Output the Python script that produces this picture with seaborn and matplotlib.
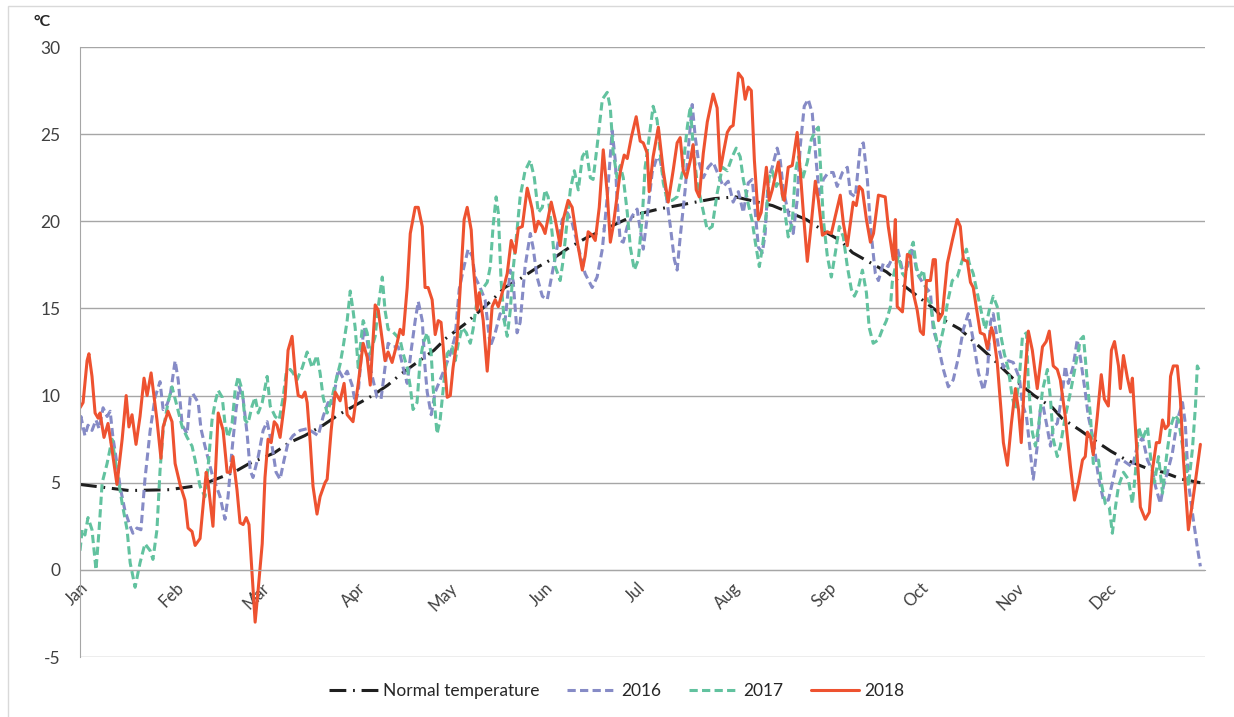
"""
Daily mean temperature 2016-2018 against the normal curve.
"""

import matplotlib
matplotlib.use("Agg")
import matplotlib.pyplot as plt
import pandas as pd
import seaborn as sns
from matplotlib.patches import Rectangle

# --- data -------------------------------------------------------------------
month_labels = ["Jan", "Feb", "Mar", "Apr", "May", "Jun",
                "Jul", "Aug", "Sep", "Oct", "Nov", "Dec"]
month_start = [0, 31, 59, 90, 120, 151, 181, 212, 243, 273, 304, 334]

normal_day = [0, 16, 29, 39, 50, 55, 63, 68, 73, 79, 84, 95, 100, 104, 115, 119,
              125, 134, 138, 143, 149, 154, 159, 165, 170, 176, 181, 188, 200,
              206, 213, 225, 236, 242, 247, 251, 257, 262, 267, 278, 281, 286,
              291, 296, 303, 310, 316, 319, 325, 329, 335, 340, 347, 352, 358, 364]
normal_temp = [4.9, 4.55, 4.6, 4.85, 5.6, 6.1, 6.7, 7.3, 7.7, 8.3, 8.9, 10.0, 10.6,
               11.2, 12.6, 13.3, 14.1, 15.5, 16.2, 16.7, 17.4, 17.9, 18.5, 19.1,
               19.5, 20.0, 20.4, 20.7, 21.1, 21.3, 21.4, 20.9, 20.1, 19.4, 18.9,
               18.2, 17.6, 17.1, 16.4, 14.9, 14.3, 13.8, 13.0, 12.2, 11.0, 10.0,
               9.3, 8.7, 8.0, 7.5, 6.8, 6.3, 5.8, 5.6, 5.2, 5.0]

day_2016 = [0, 0.3, 1.6, 2.6, 3.9, 5.2, 6.2, 7.5, 8.8, 9.8, 10.7, 12.0, 13.0, 14.6,
            16.3, 17.2, 18.5, 19.8, 21.1, 22.8, 24.4, 26.0, 27.0, 28.3, 29.3, 30.9,
            31.9, 33.2, 34.8, 35.8, 36.7, 38.4, 39.3, 40.6, 42.9, 45.5, 47.1, 48.1,
            49.4, 50.7, 51.7, 53.0, 54.3, 55.3, 56.2, 57.9, 59.5, 60.8, 62.4, 63.7,
            65.0, 66.3, 67.6, 69.2, 71.5, 73.8, 75.7, 77.4, 79.0, 80.6, 81.9, 83.9,
            85.5, 86.8, 88.4, 89.4, 90.4, 91.7, 92.3, 93.3, 94.3, 95.2, 96.5, 97.8,
            99.1, 100.1, 101.7, 103.4, 105.0, 106.3, 107.6, 108.9, 109.9, 111.2,
            112.1, 112.8, 114.1, 115.4, 117.0, 118.6, 120.3, 121.9, 123.2, 124.5,
            126.1, 127.4, 128.4, 130.0, 131.6, 133.3, 134.9, 136.5, 138.1, 139.8,
            140.7, 142.0, 143.0, 144.6, 146.3, 147.2, 148.5, 150.2, 151.8, 153.4,
            155.0, 156.7, 158.3, 159.9, 161.9, 164.1, 166.4, 168.0, 169.7, 171.3,
            172.9, 173.9, 174.5, 175.5, 176.5, 177.8, 179.4, 181.0, 183.0, 184.3,
            185.9, 187.5, 188.5, 190.1, 191.8, 193.1, 194.0, 195.0, 196.6, 197.9,
            198.9, 199.9, 200.9, 202.5, 204.1, 205.7, 207.3, 209.0, 210.6, 212.2,
            213.9, 215.5, 217.1, 218.4, 219.4, 220.4, 221.7, 222.6, 223.6, 224.9,
            226.5, 227.5, 228.5, 230.1, 231.7, 233.0, 234.0, 235.3, 236.6, 237.9,
            239.2, 240.2, 241.5, 243.1, 244.7, 246.0, 247.7, 249.3, 250.3, 251.9,
            253.5, 254.5, 255.8, 256.8, 258.4, 259.4, 261.0, 262.6, 265.5, 267.2,
            268.8, 270.4, 272.0, 273.7, 275.3, 276.3, 277.2, 278.9, 280.5, 282.1,
            283.7, 285.4, 287.0, 288.6, 290.2, 291.9, 293.5, 294.8, 295.8, 296.7,
            298.4, 300.0, 301.6, 303.2, 305.2, 306.2, 307.5, 308.8, 309.7, 311.0,
            312.0, 312.9, 314.2, 315.3, 316.2, 317.5, 319.2, 320.1, 321.1, 322.7,
            324.0, 325.0, 326.6, 327.6, 329.2, 330.9, 332.5, 334.1, 335.4, 337.0,
            338.7, 340.3, 341.9, 343.5, 345.2, 346.8, 348.4, 349.4, 351.0, 352.0,
            353.3, 354.9, 356.5, 358.2, 359.1, 360.1, 361.7, 363.0, 364.0]
temp_2016 = [8.0, 8.8, 7.7, 8.3, 8.0, 8.6, 8.1, 9.3, 8.8, 9.1, 7.6, 6.1, 4.8, 3.4,
             2.5, 2.1, 2.4, 2.3, 5.2, 8.0, 9.9, 10.8, 9.2, 9.5, 10.0, 12.0, 10.9,
             8.3, 7.8, 9.9, 10.1, 9.6, 8.1, 7.1, 5.5, 4.2, 2.9, 4.2, 6.9, 9.2, 10.5,
             9.8, 7.8, 5.7, 5.3, 6.5, 8.0, 8.5, 7.1, 5.6, 5.2, 6.3, 7.3, 7.7, 8.0,
             8.1, 7.9, 7.7, 8.8, 9.6, 9.4, 11.5, 11.0, 11.4, 10.6, 9.6, 10.2, 13.0,
             13.9, 13.2, 11.6, 10.9, 9.9, 9.8, 11.6, 13.0, 12.8, 12.8, 11.6, 10.7,
             12.6, 14.3, 15.4, 14.3, 11.6, 10.2, 8.9, 10.2, 10.9, 11.6, 12.4, 13.4,
             16.1, 17.2, 18.4, 18.0, 16.8, 16.2, 15.5, 12.8, 13.6, 14.7, 14.3, 17.2,
             16.6, 13.6, 14.2, 17.4, 19.3, 18.5, 16.8, 15.7, 15.5, 17.0, 18.5, 20.1,
             20.5, 19.9, 18.5, 17.0, 16.2, 16.8, 18.4, 21.4, 25.2, 23.5, 21.2, 18.9,
             18.8, 19.7, 20.3, 20.7, 18.4, 20.3, 22.8, 23.7, 23.5, 22.0, 19.7, 17.8,
             17.2, 19.1, 21.8, 24.7, 26.7, 24.8, 23.5, 22.5, 23.1, 23.4, 22.7, 22.0,
             22.3, 21.1, 21.7, 20.5, 22.2, 22.4, 20.5, 18.5, 18.2, 19.3, 22.4, 23.1,
             24.2, 23.5, 21.8, 20.5, 19.3, 21.2, 24.3, 26.6, 27.0, 26.2, 23.4, 21.4,
             22.4, 22.8, 22.8, 22.0, 22.8, 23.1, 21.6, 21.4, 24.3, 24.5, 22.4, 19.7,
             17.0, 16.6, 17.6, 17.4, 18.5, 17.2, 17.4, 18.5, 17.0, 16.5, 16.1, 15.9,
             13.8, 12.8, 11.5, 10.5, 10.9, 12.2, 13.8, 14.7, 13.2, 11.3, 10.3, 11.3,
             14.2, 14.7, 12.8, 11.6, 12.0, 11.9, 11.0, 9.5, 8.8, 6.7, 5.2, 7.1, 9.2,
             9.4, 8.2, 7.1, 8.2, 8.4, 10.2, 11.7, 10.7, 11.7, 13.2, 12.2, 10.2, 8.8,
             7.5, 5.3, 4.0, 4.0, 5.0, 6.3, 6.3, 6.1, 5.9, 7.1, 7.6, 6.3, 5.7, 4.8,
             3.8, 4.8, 5.6, 6.7, 8.6, 9.6, 8.4, 5.0, 2.9, 1.3, 0.2]

day_2017 = [0, 0.7, 1.6, 2.6, 3.9, 5.2, 6.2, 7.2, 8.8, 10.4, 12.0, 13.7, 15.3, 16.3,
            17.9, 19.5, 21.1, 22.8, 23.7, 25.0, 26.0, 27.0, 28.6, 29.9, 31.5, 33.2,
            34.8, 36.4, 37.4, 39.0, 40.6, 41.6, 42.9, 43.9, 44.9, 46.2, 47.1, 48.1,
            49.4, 50.4, 51.4, 52.7, 53.6, 54.6, 55.9, 56.9, 57.9, 59.2, 60.8, 61.8,
            63.4, 64.7, 66.0, 67.0, 68.3, 69.2, 70.5, 72.2, 73.8, 75.4, 77.0, 78.0,
            79.0, 80.3, 81.9, 83.2, 84.5, 85.5, 86.8, 87.8, 88.7, 89.4, 90.4, 91.3,
            92.0, 93.3, 94.3, 95.9, 96.9, 98.2, 99.1, 100.1, 101.4, 103.0, 104.0,
            105.0, 106.3, 107.3, 108.2, 109.5, 110.5, 111.5, 112.8, 114.1, 114.7,
            116.0, 117.0, 118.3, 119.3, 120.9, 121.9, 122.9, 124.2, 125.5, 126.8,
            127.7, 129.0, 130.7, 132.3, 133.3, 134.2, 135.2, 135.9, 136.8, 137.8,
            138.8, 139.8, 140.7, 142.0, 143.0, 144.6, 146.3, 147.6, 148.9, 150.2,
            151.1, 152.1, 153.4, 154.4, 156.0, 157.0, 158.3, 159.3, 160.6, 161.9,
            163.2, 164.5, 165.8, 166.7, 168.0, 169.7, 171.3, 172.3, 173.2, 174.5,
            175.5, 176.5, 177.8, 178.8, 180.1, 181.4, 182.7, 183.6, 184.9, 186.2,
            187.5, 188.5, 189.5, 190.8, 192.4, 194.0, 195.7, 197.3, 198.3, 199.2,
            200.5, 202.2, 203.8, 205.4, 207.0, 208.7, 210.3, 211.9, 213.2, 214.5,
            215.5, 217.1, 218.4, 219.4, 220.7, 221.7, 223.0, 223.9, 224.9, 226.2,
            227.5, 228.8, 230.1, 231.4, 232.4, 233.4, 234.7, 236.3, 237.6, 238.9,
            239.9, 240.5, 241.5, 242.8, 244.1, 245.4, 246.7, 248.0, 249.3, 250.6,
            251.6, 252.9, 254.2, 255.5, 256.4, 257.7, 259.4, 260.7, 262.0, 263.3,
            263.9, 264.9, 265.9, 267.2, 268.1, 269.1, 270.7, 271.7, 272.7, 274.0,
            275.3, 276.3, 277.2, 278.5, 279.2, 280.5, 281.8, 283.4, 285.0, 286.7,
            288.0, 288.9, 290.2, 291.5, 293.2, 294.1, 295.4, 296.7, 298.0, 299.0,
            300.3, 301.6, 302.9, 303.9, 305.2, 306.2, 307.5, 308.1, 309.4, 310.4,
            311.4, 312.7, 314.3, 315.3, 316.2, 317.5, 318.5, 320.1, 321.8, 323.4,
            325.0, 326.0, 327.3, 328.3, 329.2, 330.9, 331.8, 333.1, 334.4, 335.4,
            336.4, 337.4, 339.0, 340.6, 341.9, 342.9, 343.9, 345.2, 346.8, 347.8,
            349.1, 350.4, 351.7, 353.0, 354.3, 355.6, 356.9, 358.2, 359.1, 360.1,
            361.4, 362.4, 363.0, 364.0]
temp_2017 = [1.1, 2.3, 2.0, 3.0, 2.3, 0.0, 2.3, 5.0, 6.1, 7.5, 5.7, 3.8, 2.3, 0.4,
             -1.0, 0.4, 1.5, 1.1, 0.6, 2.3, 5.7, 8.0, 9.6, 10.5, 9.4, 8.2, 7.6, 7.1,
             6.3, 4.8, 4.2, 5.9, 8.6, 9.6, 10.3, 9.9, 8.4, 7.6, 8.4, 10.3, 11.1, 10.3,
             8.6, 8.4, 9.4, 9.9, 9.0, 9.6, 11.1, 9.4, 8.8, 8.6, 9.9, 11.3, 11.5, 11.3,
             10.9, 11.6, 12.5, 11.6, 12.3, 11.3, 9.9, 9.0, 9.9, 10.9, 11.8, 12.8,
             14.3, 16.0, 14.9, 13.9, 11.6, 13.2, 14.3, 13.6, 12.4, 13.4, 15.1, 16.8,
             14.9, 13.8, 13.7, 13.4, 13.2, 12.4, 11.6, 10.5, 9.2, 9.6, 12.0, 13.0,
             13.6, 12.4, 10.5, 7.8, 8.6, 10.9, 12.4, 12.8, 12.0, 13.0, 13.9, 13.6,
             13.0, 13.8, 15.5, 16.1, 16.5, 17.4, 19.7, 21.4, 20.5, 16.6, 14.3, 13.4,
             14.9, 17.2, 19.5, 21.4, 22.9, 23.5, 22.5, 20.5, 20.8, 21.8, 21.4, 19.3,
             17.4, 16.6, 17.8, 20.1, 21.8, 22.9, 21.8, 23.7, 24.1, 22.5, 22.4, 24.3,
             27.0, 27.4, 26.5, 24.0, 22.5, 23.2, 22.5, 20.5, 18.5, 17.2, 17.8, 20.3,
             23.1, 24.8, 26.6, 25.8, 23.9, 22.2, 21.2, 21.2, 21.4, 22.8, 25.4, 26.6,
             24.3, 22.2, 20.8, 19.5, 19.7, 21.6, 23.1, 22.9, 23.7, 24.2, 23.7, 22.4,
             21.0, 20.0, 18.8, 17.4, 18.5, 20.5, 22.5, 22.9, 22.0, 22.4, 20.8, 19.1,
             19.9, 22.8, 23.7, 22.4, 23.4, 24.7, 25.2, 25.4, 23.4, 20.1, 18.0, 16.8,
             18.2, 19.7, 19.1, 17.4, 16.1, 15.7, 16.2, 17.2, 15.9, 13.9, 13.0, 13.2,
             13.8, 14.3, 15.1, 16.5, 17.4, 18.0, 17.0, 16.8, 18.0, 18.8, 17.4, 16.8,
             17.2, 15.5, 15.3, 14.2, 13.0, 12.8, 13.8, 15.3, 16.6, 16.8, 17.8, 18.4,
             17.6, 17.0, 15.9, 14.5, 13.8, 14.9, 15.7, 15.1, 13.6, 12.4, 11.5, 9.9,
             9.2, 11.1, 13.4, 13.6, 10.7, 7.9, 7.1, 8.2, 10.3, 11.5, 9.8, 7.5, 6.5,
             7.1, 8.8, 10.2, 11.7, 13.2, 13.4, 10.7, 8.8, 6.1, 6.3, 5.0, 3.8, 3.6,
             2.1, 3.6, 4.8, 5.6, 5.2, 3.8, 5.6, 8.2, 7.5, 8.2, 6.5, 5.0, 6.5, 4.4,
             6.5, 8.2, 8.9, 8.6, 7.1, 6.3, 4.8, 6.9, 9.4, 11.7, 11.3]

day_2018 = [0, 1.0, 2.3, 2.9, 3.9, 4.9, 5.9, 6.5, 7.8, 9.1, 10.4, 12.0, 13.7, 15.0,
            15.9, 16.9, 18.2, 19.5, 20.8, 21.8, 23.1, 25.0, 26.3, 27.0, 28.6, 29.9,
            30.9, 32.5, 34.1, 35.1, 36.4, 37.4, 39.0, 41.0, 41.6, 43.2, 44.9, 46.5,
            47.8, 48.8, 49.7, 51.0, 52.0, 53.0, 54.0, 54.9, 55.9, 56.9, 57.9, 59.2,
            60.1, 61.1, 62.1, 63.1, 64.0, 65.0, 66.6, 67.6, 68.9, 69.9, 70.9, 72.2,
            73.1, 73.8, 74.8, 75.7, 77.0, 78.0, 79.6, 80.3, 81.6, 82.9, 84.5, 85.8,
            86.8, 88.7, 90.4, 92.0, 93.3, 94.3, 95.9, 96.9, 98.2, 99.1, 100.1, 101.4,
            103.0, 104.0, 105.0, 106.3, 107.3, 108.9, 109.9, 111.2, 112.1, 113.1,
            114.4, 115.4, 116.4, 117.3, 118.0, 119.3, 120.3, 121.2, 122.5, 123.5,
            124.8, 125.8, 127.1, 127.7, 129.0, 129.7, 131.0, 132.3, 133.9, 134.9,
            135.9, 137.5, 138.8, 140.1, 141.4, 142.4, 143.7, 145.3, 146.9, 147.9,
            148.9, 150.2, 151.1, 153.1, 154.4, 156.0, 157.0, 158.6, 159.9, 161.5,
            163.2, 164.1, 165.1, 166.4, 167.4, 168.7, 170.0, 171.3, 172.3, 173.2,
            175.5, 176.8, 177.8, 179.1, 180.7, 182.0, 183.0, 184.3, 184.9, 186.2,
            187.9, 189.5, 191.1, 192.7, 194.0, 195.0, 196.0, 197.0, 198.3, 199.2,
            200.2, 201.2, 202.5, 203.8, 205.7, 207.0, 208.0, 209.0, 210.3, 211.3,
            212.2, 213.9, 215.2, 216.1, 217.1, 218.1, 219.1, 220.4, 221.3, 223.0,
            223.9, 224.9, 226.9, 228.2, 228.8, 230.1, 231.4, 233.0, 234.0, 235.0,
            236.3, 237.6, 238.9, 239.9, 241.2, 242.8, 244.1, 245.4, 247.0, 248.0,
            249.3, 250.3, 251.2, 252.2, 253.2, 254.2, 255.5, 256.8, 257.8, 259.4,
            261.6, 262.6, 264.2, 264.9, 265.5, 267.2, 268.8, 269.8, 270.7, 272.0,
            273.0, 274.0, 275.0, 276.3, 277.2, 277.9, 278.9, 280.2, 281.8, 283.4,
            285.0, 286.0, 287.0, 288.3, 289.3, 290.2, 292.5, 293.8, 294.8, 296.1,
            296.7, 298.0, 299.3, 300.0, 301.3, 302.6, 303.9, 304.9, 305.8, 306.8,
            308.1, 309.4, 311.0, 312.7, 313.9, 314.9, 316.2, 317.5, 318.5, 320.1,
            321.8, 323.1, 324.4, 325.7, 326.6, 327.3, 328.3, 329.2, 330.5, 331.8,
            332.8, 334.1, 335.1, 336.1, 337.4, 338.0, 339.0, 340.3, 341.3, 341.9,
            343.2, 344.5, 346.1, 347.4, 348.4, 349.7, 350.7, 351.7, 352.6, 353.6,
            354.3, 355.2, 356.5, 357.5, 358.5, 360.1, 361.4, 363.0, 364.0]
temp_2018 = [9.3, 9.6, 12.0, 12.4, 11.1, 9.0, 8.7, 9.0, 7.6, 8.4, 6.9, 4.9, 7.5, 10.0,
             8.2, 8.9, 7.2, 8.8, 11.0, 10.0, 11.3, 8.6, 6.4, 8.2, 9.1, 8.5, 6.1, 4.9,
             4.0, 2.4, 2.2, 1.4, 1.8, 5.6, 5.0, 2.5, 9.0, 8.0, 5.6, 5.6, 6.5, 4.6, 2.7,
             2.6, 3.0, 2.6, -0.2, -3.0, -1.1, 1.5, 5.3, 7.5, 7.3, 8.5, 8.3, 7.6, 9.8,
             12.6, 13.4, 11.3, 10.0, 9.9, 10.2, 9.6, 7.3, 4.8, 3.2, 4.2, 5.0, 5.2, 8.0,
             10.2, 9.7, 10.7, 8.9, 8.5, 10.7, 13.0, 12.2, 10.6, 15.2, 14.9, 13.2, 12.0,
             12.5, 11.9, 13.0, 13.8, 13.5, 16.2, 19.3, 20.8, 20.8, 19.7, 16.2, 16.2,
             15.5, 13.5, 14.3, 14.2, 12.8, 9.9, 10.0, 11.6, 13.2, 16.1, 20.1, 20.8,
             19.5, 17.6, 14.9, 15.9, 14.3, 11.4, 15.1, 15.5, 15.1, 16.1, 17.0, 18.9,
             18.2, 19.6, 19.7, 21.9, 20.7, 19.4, 20.0, 19.7, 19.3, 21.1, 20.1, 18.6,
             20.1, 21.2, 20.8, 18.9, 17.2, 18.0, 19.4, 19.2, 18.9, 20.8, 24.1, 21.6,
             18.8, 19.7, 22.8, 23.8, 23.6, 24.8, 26.0, 24.6, 24.5, 23.9, 21.7, 23.7,
             25.4, 22.9, 21.1, 22.9, 24.5, 24.8, 22.9, 22.5, 23.5, 24.4, 21.8, 21.4,
             23.9, 25.7, 27.3, 26.5, 22.9, 23.9, 25.1, 25.4, 25.5, 28.5, 28.2, 27.0,
             27.7, 27.5, 23.5, 20.1, 20.5, 23.1, 21.2, 21.8, 23.4, 21.5, 21.2, 23.1,
             23.2, 25.1, 22.9, 20.5, 17.7, 19.9, 22.3, 21.2, 19.2, 19.4, 19.3, 20.3,
             21.5, 19.9, 18.6, 19.9, 21.1, 20.9, 22.0, 21.8, 20.1, 18.8, 19.3, 21.5,
             21.4, 19.7, 17.8, 20.1, 15.1, 14.8, 18.1, 18.0, 15.9, 14.9, 13.7, 13.5,
             16.6, 16.6, 17.8, 17.8, 14.3, 14.7, 17.6, 18.9, 20.1, 19.7, 17.8, 17.7,
             16.5, 16.2, 13.6, 13.5, 12.7, 13.9, 13.6, 11.9, 9.0, 7.3, 6.0, 8.4, 10.4,
             9.2, 7.3, 10.7, 13.7, 12.6, 10.4, 12.8, 13.1, 13.7, 11.7, 11.5, 10.9, 8.8,
             5.9, 4.0, 5.0, 6.3, 6.5, 7.9, 7.6, 6.6, 8.8, 11.2, 9.8, 9.4, 12.6, 13.1,
             11.7, 10.4, 12.3, 11.0, 10.2, 11.0, 7.3, 3.6, 2.9, 3.3, 5.7, 7.3, 7.3,
             8.6, 8.1, 8.3, 11.1, 11.7, 11.7, 9.8, 6.3, 2.3, 3.8, 5.9, 7.2]

series_names = ["Normal temperature", "2016", "2017", "2018"]
series_colors = ["#1f1f1f", "#868bc6", "#62c29f", "#ee5230"]


def build_frame() -> pd.DataFrame:
    parts = []
    for name, days, temps in zip(series_names,
                                 [normal_day, day_2016, day_2017, day_2018],
                                 [normal_temp, temp_2016, temp_2017, temp_2018]):
        parts.append(pd.DataFrame({"day": days, "temp": temps, "series": name}))
    return pd.concat(parts, ignore_index=True)


df = build_frame()

sns.set_style("white")
plt.rcParams["font.family"] = ["Lato", "DejaVu Sans"]
plt.rcParams["axes.unicode_minus"] = False

fig = plt.figure(figsize=(12.34, 7.17), dpi=100)
ax = fig.add_axes([80 / 1234, 1 - 657 / 717, 1125 / 1234, 610 / 717])

sns.lineplot(
    data=df, x="day", y="temp",
    hue="series", style="series",
    hue_order=series_names, style_order=series_names,
    palette=dict(zip(series_names, series_colors)),
    dashes={
        "Normal temperature": (5.5, 2.2, 0.6, 2.2),
        "2016": (2.7, 1.4),
        "2017": (2.7, 1.4),
        "2018": "",
    },
    estimator=None, sort=False, linewidth=2.2, ax=ax,
)

grey = "#a6a6a6"
ax.set_xlim(0, 365.5)
ax.set_ylim(-5, 30)
ax.set_yticks(range(-5, 31, 5))
ax.yaxis.grid(True, color=grey, linewidth=1)
ax.xaxis.grid(False)
ax.set_xlabel("")
ax.set_ylabel("")

for side in ("top", "right"):
    ax.spines[side].set_visible(False)
ax.spines["left"].set_color(grey)
ax.spines["bottom"].set_color(grey)
ax.spines["bottom"].set_position(("data", 0))

ax.set_xticks(month_start)
ax.set_xticklabels(month_labels, rotation=45, ha="right", rotation_mode="anchor")
ax.set_xticks(range(0, 361, 12), minor=True)
ax.tick_params(axis="x", which="major", length=0, pad=7, labelsize=12, labelcolor="#404040")
ax.tick_params(axis="x", which="minor", length=5, color=grey, direction="out")
ax.tick_params(axis="y", length=6, color=grey, labelsize=12.5, labelcolor="#404040", pad=8)

fig.text(34 / 1234, 1 - 22 / 717, "°C", fontsize=11.5, fontweight="bold",
         color="#262626", va="center", ha="left")

sns.move_legend(
    ax, "center", bbox_to_anchor=(0.5, 1 - 691 / 717), bbox_transform=fig.transFigure,
    ncol=4, frameon=False, title=None, fontsize=12.5,
    handlelength=2.8, handletextpad=0.3, columnspacing=1.6,
)

fig.patches.append(Rectangle((8 / 1234, -0.1), 1.2, 1.1 - 6 / 717,
                             transform=fig.transFigure, fill=False,
                             edgecolor="#d9d9d9", linewidth=1))

fig.savefig("out.png", dpi=100)
plt.close(fig)
